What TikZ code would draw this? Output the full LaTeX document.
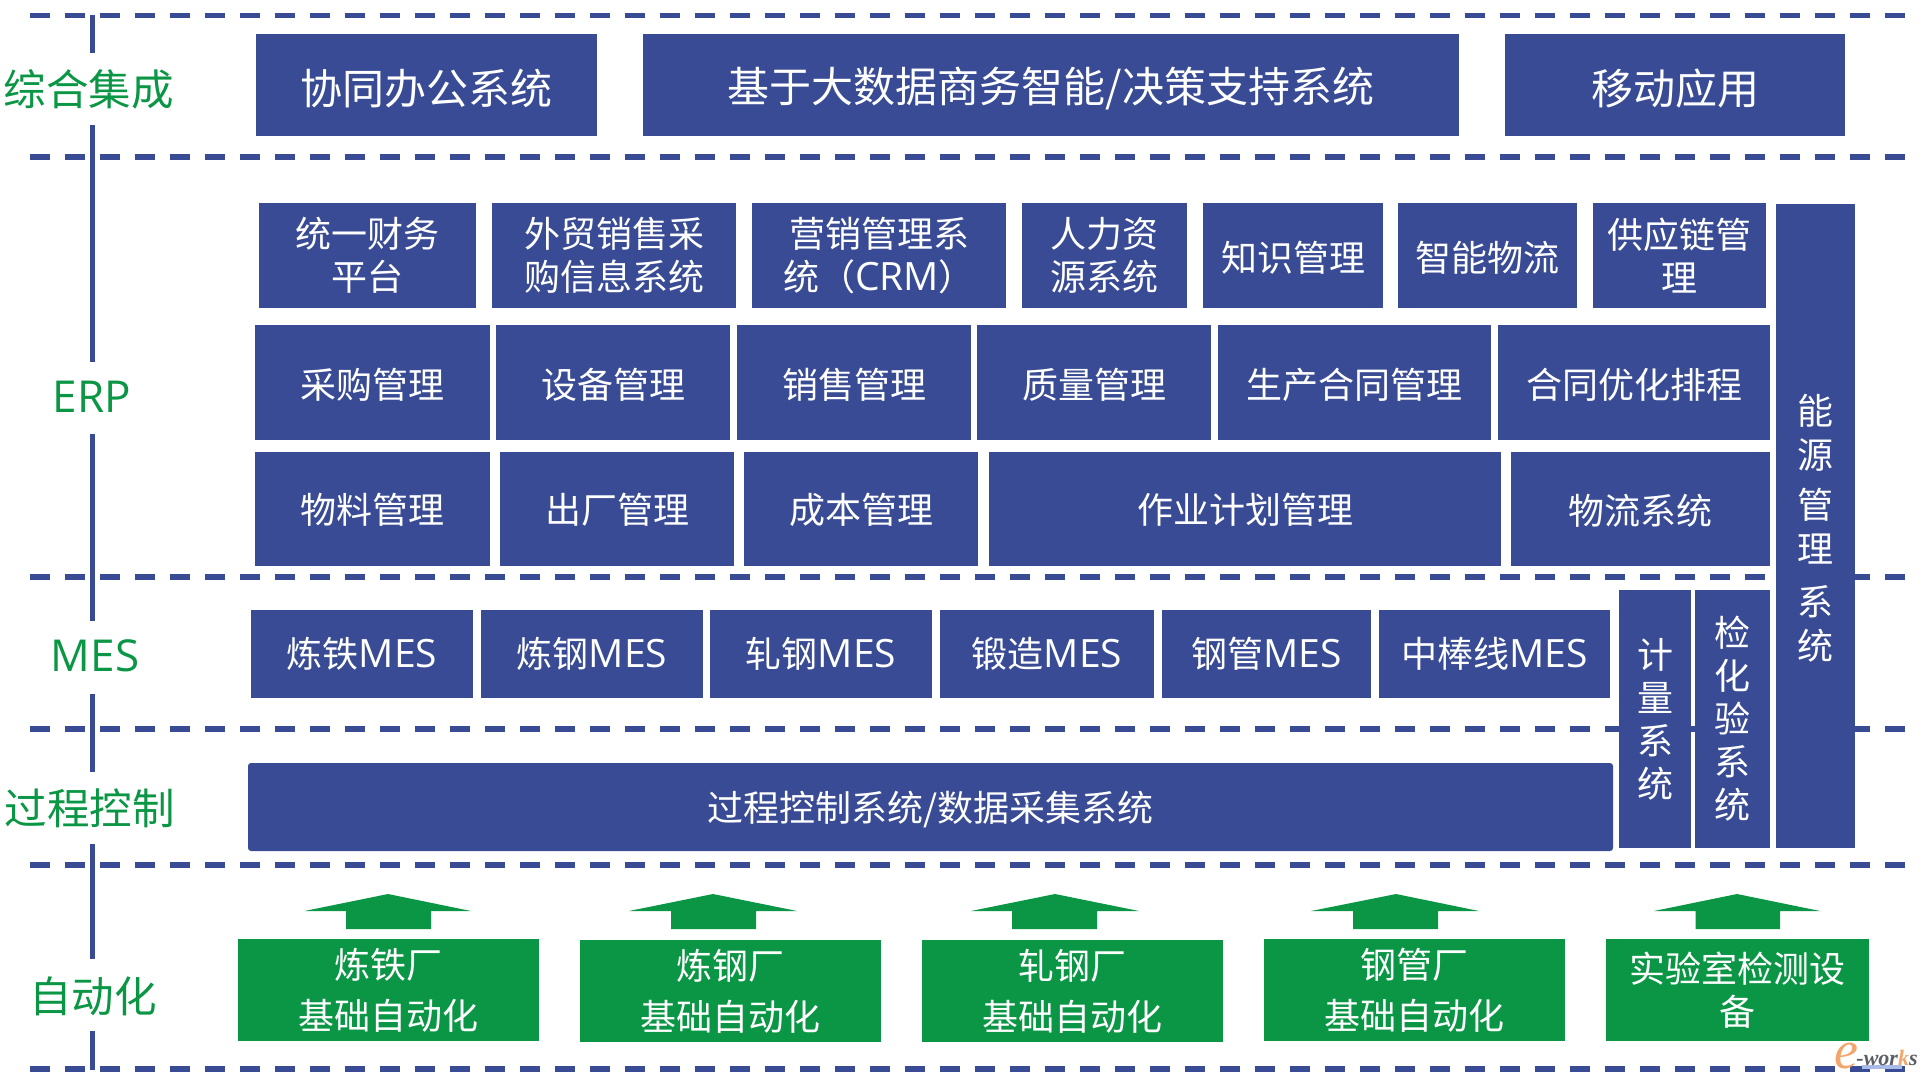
\documentclass[tikz,border=0pt]{standalone}
\usepackage{fontspec}
\newfontfamily\cjk{Noto Sans CJK SC}
\newfontfamily\lat{Open Sans}
\newfontfamily\wm{Liberation Serif}
\definecolor{navyc}{HTML}{384B94}
\definecolor{greenc}{HTML}{0A9644}
\definecolor{wmorange}{HTML}{F2A66E}
\definecolor{wmgrey}{HTML}{5A5F66}
\definecolor{wmblue}{HTML}{A9BCE6}
\newcommand{\fs}[2]{\fontsize{#1}{#2}\selectfont\cjk}
\newcommand{\lt}[1]{{\lat\fontsize{39}{43}\selectfont #1}}
\newcommand{\dn}[2]{\raisebox{0pt}[\dimexpr\height+#1\relax]{#2}}
\tikzset{
  cell/.style={inner sep=0pt,outer sep=0pt,text=white,align=center,font=\fs{36}{43}},
  bluebox/.style={cell,fill=navyc},
  greenbox/.style={cell,fill=greenc},
  toptext/.style={font=\fs{42}{48}},
  sideline/.style={draw=navyc,line width=5pt},
  sep/.style={draw=navyc,line width=5.5pt,dash pattern=on 20pt off 15pt},
  side/.style={inner sep=0pt,text=greenc,font=\fs{42.5}{48}},
  sidelat/.style={side,font=\lat\fontsize{44}{48}\selectfont},
}
\newcommand{\bx}[7][]{\node[#2,#1,minimum width={(#5-#3)*1pt},minimum height={(#6-#4)*1pt}] (#7) at ({(#3+#5)/2},{(#4+#6)/2})}
\newcommand{\upar}[5]{\fill[greenc] (#1,894) -- (#3,911) -- (#5,911) -- (#5,929) -- (#4,929) -- (#4,911) -- (#2,911) -- cycle;}
\begin{document}
\begin{tikzpicture}[x=1pt,y=-1pt]
\useasboundingbox (0,0) rectangle (1927,1079);
% separators
\foreach \n/\yy in {a/15.5,b/157,c/577,d/729,e/865,f/1069}{
  \coordinate (s\n l) at (29.5,\yy);
  \coordinate (s\n r) at (1905,\yy);
  \draw[sep] (s\n l) -- (s\n r);
}
% left rail
\node[side] (l1) at (89,89) {综合集成};
\node[sidelat] (l2) at (92,397) {ERP};
\node[sidelat] (l3) at (95,656) {MES};
\node[side] (l4) at (90,808) {过程控制};
\node[side] (l5) at (93,996) {自动化};
\coordinate (r0) at (92.3,15);
\coordinate (r1) at (92.3,1070);
\draw[sideline] (r0) -- (92.3,53);
\draw[sideline] (92.3,125) -- (92.3,362);
\draw[sideline] (92.3,434) -- (92.3,621);
\draw[sideline] (92.3,694) -- (92.3,772);
\draw[sideline] (92.3,844) -- (92.3,959);
\draw[sideline] (92.3,1031) -- (r1);
% top row
\bx[toptext]{bluebox}{256}{34}{597}{136}{t1} {\dn{7pt}{协同办公系统}};
\bx[toptext]{bluebox}{643}{34}{1459}{136}{t2} {\dn{7pt}{基于大数据商务智能/决策支持系统}};
\bx[toptext]{bluebox}{1505}{34}{1845}{136}{t3} {\dn{7pt}{移动应用}};
% ERP row 1
\bx{bluebox}{259}{203}{476}{307.5}{e1} {统一财务\\平台};
\bx{bluebox}{492}{203}{736}{307.5}{e2} {外贸销售采\\购信息系统};
\bx{bluebox}{752}{203}{1006}{307.5}{e3} {营销管理系\\统（\lt{CRM}）};
\bx{bluebox}{1022}{203}{1187}{307.5}{e4} {人力资\\源系统};
\bx{bluebox}{1203}{203}{1383}{307.5}{e5} {\dn{5pt}{知识管理}};
\bx{bluebox}{1398}{203}{1577}{307.5}{e6} {\dn{5pt}{智能物流}};
\bx{bluebox}{1593}{203}{1766}{307.5}{e7} {供应链管\\理};
% ERP row 2
\bx{bluebox}{255}{325}{490}{439.5}{f1} {\dn{5pt}{采购管理}};
\bx{bluebox}{496}{325}{730}{439.5}{f2} {\dn{5pt}{设备管理}};
\bx{bluebox}{737}{325}{971}{439.5}{f3} {\dn{5pt}{销售管理}};
\bx{bluebox}{977}{325}{1211}{439.5}{f4} {\dn{5pt}{质量管理}};
\bx{bluebox}{1218}{325}{1491}{439.5}{f5} {\dn{5pt}{生产合同管理}};
\bx{bluebox}{1498}{325}{1770}{439.5}{f6} {\dn{5pt}{合同优化排程}};
% ERP row 3
\bx{bluebox}{255}{452}{490}{566}{g1} {\dn{2.5pt}{物料管理}};
\bx{bluebox}{500}{452}{734}{566}{g2} {\dn{2.5pt}{出厂管理}};
\bx{bluebox}{744}{452}{978}{566}{g3} {\dn{2.5pt}{成本管理}};
\bx{bluebox}{989}{452}{1501}{566}{g4} {\dn{2.5pt}{作业计划管理}};
\bx{bluebox}{1511}{452}{1770}{566}{g5} {\dn{2.5pt}{物流系统}};
% MES row
\bx{bluebox}{251}{610}{473}{698}{m1} {炼铁\lt{MES}};
\bx{bluebox}{481}{610}{703}{698}{m2} {炼钢\lt{MES}};
\bx{bluebox}{710}{610}{932}{698}{m3} {轧钢\lt{MES}};
\bx{bluebox}{940}{610}{1154}{698}{m4} {锻造\lt{MES}};
\bx{bluebox}{1162}{610}{1371}{698}{m5} {钢管\lt{MES}};
\bx{bluebox}{1379}{610}{1610}{698}{m6} {中棒线\lt{MES}};
% process
\bx[rounded corners=3pt]{bluebox}{248}{763}{1613}{851}{p1} {\dn{5pt}{过程控制系统/数据采集系统}};
% vertical columns
\bx{bluebox}{1619}{590}{1691}{848}{v1} {计\\量\\系\\统};
\bx{bluebox}{1695}{590}{1770}{848}{v2} {检\\化\\验\\系\\统};
\bx[font=\fs{36}{44}]{bluebox}{1776}{204}{1855}{848}{v3} {\mbox{}\\[-10pt]能\\源\\[6pt]管\\理\\[9pt]系\\统};
% arrows
\upar{388}{304.5}{471}{346}{431}
\upar{713}{629}{797}{671}{756}
\upar{1055}{971}{1139}{1012}{1097}
\upar{1396}{1311}{1479}{1353}{1438}
\upar{1737}{1654}{1820}{1695.5}{1780}
% automation boxes
\bx[font=\fs{36}{51}]{greenbox}{238}{939}{539}{1041}{a1} {炼铁厂\\基础自动化};
\bx[font=\fs{36}{51}]{greenbox}{580}{940}{881}{1042}{a2} {炼钢厂\\基础自动化};
\bx[font=\fs{36}{51}]{greenbox}{922}{940}{1223}{1042}{a3} {轧钢厂\\基础自动化};
\bx[font=\fs{36}{51}]{greenbox}{1264}{939}{1565}{1041}{a4} {钢管厂\\基础自动化};
\bx{greenbox}{1606}{939}{1869}{1041}{a5} {实验室检测设\\备};
% watermark
\fill[wmblue] (1862,1065) rectangle (1902,1069);
\node[inner sep=0pt,text=wmorange,font=\wm\itshape\fontsize{54}{54}\selectfont] (we) at (1846,1056) {e};
\node[inner sep=0pt,text=wmgrey,font=\wm\bfseries\itshape\fontsize{22}{22}\selectfont] (ww) at (1887,1058) {-wor{\color{wmorange}k}s};
\end{tikzpicture}
\end{document}
